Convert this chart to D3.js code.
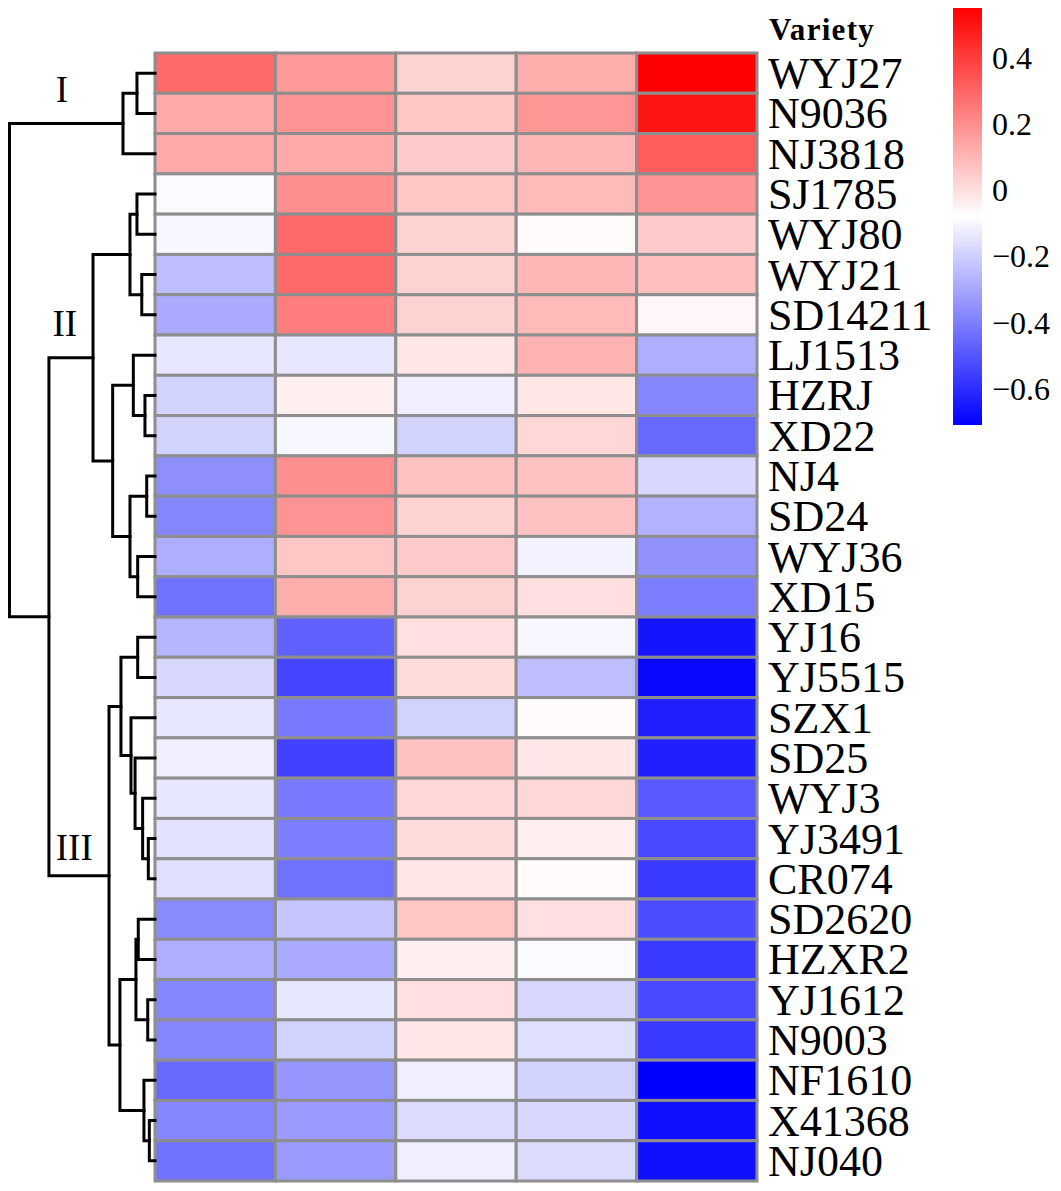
<!DOCTYPE html>
<html>
<head>
<meta charset="utf-8">
<script src="https://cdn.jsdelivr.net/npm/d3@7"></script>
<style>
  body { margin: 0; background: #fff; }
  text { font-family: "Liberation Serif", "Times New Roman", serif; }
</style>
</head>
<body>
<div class="heatmap"></div>
<script>
// row order as drawn (top -> bottom)
const varieties = ["WYJ27", "N9036", "NJ3818", "SJ1785", "WYJ80", "WYJ21", "SD14211",
  "LJ1513", "HZRJ", "XD22", "NJ4", "SD24", "WYJ36", "XD15",
  "YJ16", "YJ5515", "SZX1", "SD25", "WYJ3", "YJ3491", "CR074",
  "SD2620", "HZXR2", "YJ1612", "N9003", "NF1610", "X41368", "NJ040"];

// one array per heatmap column, same order as varieties
const trait1 = [0.29, 0.13, 0.13, -0.09, -0.10, -0.24, -0.29,
  -0.14, -0.19, -0.19, -0.36, -0.38, -0.28, -0.43,
  -0.26, -0.18, -0.14, -0.12, -0.14, -0.15, -0.16,
  -0.37, -0.28, -0.38, -0.38, -0.45, -0.38, -0.43];
const trait2 = [0.17, 0.19, 0.13, 0.20, 0.29, 0.29, 0.24,
  -0.14, -0.04, -0.10, 0.20, 0.19, 0.06, 0.12,
  -0.47, -0.54, -0.41, -0.55, -0.41, -0.40, -0.43,
  -0.22, -0.29, -0.14, -0.19, -0.34, -0.33, -0.33];
const trait3 = [0.03, 0.06, 0.05, 0.06, 0.03, 0.03, 0.03,
  -0.02, -0.12, -0.19, 0.07, 0.03, 0.05, 0.03,
  0.00, 0.01, -0.19, 0.07, 0.02, 0.01, -0.02,
  0.06, -0.04, 0.00, -0.02, -0.12, -0.17, -0.12];
const trait4 = [0.12, 0.18, 0.10, 0.09, -0.07, 0.10, 0.09,
  0.11, -0.02, 0.02, 0.07, 0.07, -0.11, 0.00,
  -0.10, -0.24, -0.07, -0.02, 0.02, -0.04, -0.07,
  0.00, -0.09, -0.18, -0.16, -0.19, -0.18, -0.17];
const trait5 = [0.55, 0.50, 0.32, 0.19, 0.05, 0.08, -0.06,
  -0.28, -0.38, -0.45, -0.18, -0.27, -0.35, -0.40,
  -0.66, -0.69, -0.63, -0.63, -0.49, -0.53, -0.57,
  -0.52, -0.57, -0.53, -0.57, -0.71, -0.67, -0.67];

// row dendrogram, hclust style: [left, right, height]
// a string is a leaf, a number is an earlier merge
const merges = [
  ["WYJ27", "N9036", 0.124],
  [0, "NJ3818", 0.220],
  ["SJ1785", "WYJ80", 0.124],
  ["WYJ21", "SD14211", 0.091],
  [2, 3, 0.172],
  ["HZRJ", "XD22", 0.069],
  ["LJ1513", 5, 0.149],
  ["NJ4", "SD24", 0.057],
  ["WYJ36", "XD15", 0.119],
  [7, 8, 0.172],
  [6, 9, 0.291],
  [4, 10, 0.426],
  ["YJ16", "YJ5515", 0.119],
  ["YJ3491", "CR074", 0.046],
  ["WYJ3", 13, 0.085],
  ["SD25", 14, 0.137],
  ["SZX1", 15, 0.165],
  [12, 16, 0.234],
  ["SD2620", "HZXR2", 0.115],
  ["YJ1612", "N9003", 0.050],
  [18, 19, 0.131],
  ["X41368", "NJ040", 0.039],
  ["NF1610", 21, 0.076],
  [20, 22, 0.241],
  [17, 23, 0.316],
  [11, 24, 0.729],
  [1, 25, 1.0]
];

const clusterNames = ["I", "II", "III"];
const legendTicks = [0.4, 0.2, 0, -0.2, -0.4, -0.6];

var cfg = {
  width: 1061,
  height: 1191,
  grid: {left: 155, right: 757, top: 53, bottom: 1181},
  dendro: {left: 9.5},
  legend: {x: 953, w: 29, top: 8, bottom: 425}
};

const columns = [trait1, trait2, trait3, trait4, trait5];
const allValues = columns.flat();
const vMin = d3.min(allValues), vMax = d3.max(allValues);

var scale = {
  x: d3.scaleBand()
    .domain(d3.range(columns.length))
    .range([cfg.grid.left, cfg.grid.right]),
  y: d3.scaleBand()
    .domain(varieties)
    .range([cfg.grid.top, cfg.grid.bottom]),
  h: d3.scaleLinear()
    .domain([0, 1])
    .range([cfg.grid.left, cfg.dendro.left]),
  color: d3.scaleLinear()
    .domain([vMin, (vMin + vMax) / 2, vMax])
    .range(["#0000ff", "#ffffff", "#ff0000"]),
  legend: d3.scaleLinear()
    .domain([vMin, vMax])
    .range([cfg.legend.bottom, cfg.legend.top])
};

const svg = d3.select(".heatmap").append("svg")
  .attr("width", cfg.width)
  .attr("height", cfg.height);

// heatmap cells
const cells = [];
columns.forEach((col, j) => col.forEach((v, i) => cells.push({row: varieties[i], col: j, value: v})));

svg.append("g")
  .selectAll("rect")
  .data(cells)
  .enter().append("rect")
  .attr("x", d => scale.x(d.col))
  .attr("y", d => scale.y(d.row))
  .attr("width", scale.x.bandwidth())
  .attr("height", scale.y.bandwidth())
  .attr("fill", d => scale.color(d.value))
  .attr("stroke", "#8e8e8e")
  .attr("stroke-width", 3);

// row labels
svg.append("g")
  .selectAll("text")
  .data(varieties)
  .enter().append("text")
  .attr("x", cfg.grid.right + 11)
  .attr("y", d => scale.y(d) + scale.y.bandwidth() / 2)
  .attr("dy", "0.34em")
  .style("font-size", "44px")
  .text(d => d);

svg.append("text")
  .attr("x", cfg.grid.right + 12)
  .attr("y", 40)
  .style("font-size", "31px")
  .style("font-weight", "bold")
  .style("letter-spacing", "1.3px")
  .text("Variety");

// dendrogram
const nodes = [];
function pos(ref) {
  if (typeof ref === "string") return {x: scale.h(0), y: scale.y(ref) + scale.y.bandwidth() / 2};
  return nodes[ref];
}
const dendroG = svg.append("g")
  .attr("fill", "none")
  .attr("stroke", "black")
  .attr("stroke-width", 3)
  .attr("stroke-linecap", "square");

merges.forEach(([a, b, h]) => {
  const pa = pos(a), pb = pos(b);
  const node = {x: scale.h(h), y: (pa.y + pb.y) / 2};
  nodes.push(node);
  const p = d3.path();
  p.moveTo(pa.x, pa.y);
  p.lineTo(node.x, pa.y);
  p.lineTo(node.x, pb.y);
  p.lineTo(pb.x, pb.y);
  dendroG.append("path").attr("d", p.toString());
});

// cluster labels (row position, dendrogram height)
const clusterPos = [[1.22, 0.64], [7.02, 0.62], [20.03, 0.555]];
svg.append("g")
  .selectAll("text")
  .data(clusterNames)
  .enter().append("text")
  .attr("x", (d, i) => scale.h(clusterPos[i][1]))
  .attr("y", (d, i) => cfg.grid.top + clusterPos[i][0] * scale.y.step())
  .attr("text-anchor", "middle")
  .style("font-size", "37px")
  .text(d => d);

// colour legend
const grad = svg.append("defs").append("linearGradient")
  .attr("id", "legend-grad")
  .attr("x1", 0).attr("y1", 1).attr("x2", 0).attr("y2", 0);
d3.range(0, 1.0001, 0.05).forEach(t => {
  grad.append("stop")
    .attr("offset", t)
    .attr("stop-color", scale.color(vMin + t * (vMax - vMin)));
});

svg.append("rect")
  .attr("x", cfg.legend.x)
  .attr("y", cfg.legend.top)
  .attr("width", cfg.legend.w)
  .attr("height", cfg.legend.bottom - cfg.legend.top)
  .attr("fill", "url(#legend-grad)");

svg.append("g")
  .selectAll("text")
  .data(legendTicks)
  .enter().append("text")
  .attr("x", cfg.legend.x + cfg.legend.w + 10)
  .attr("y", d => scale.legend(d))
  .attr("dy", "0.35em")
  .style("font-size", "32px")
  .text(d => d3.format("")(d).replace("-", "\u2212"));
</script>
</body>
</html>
